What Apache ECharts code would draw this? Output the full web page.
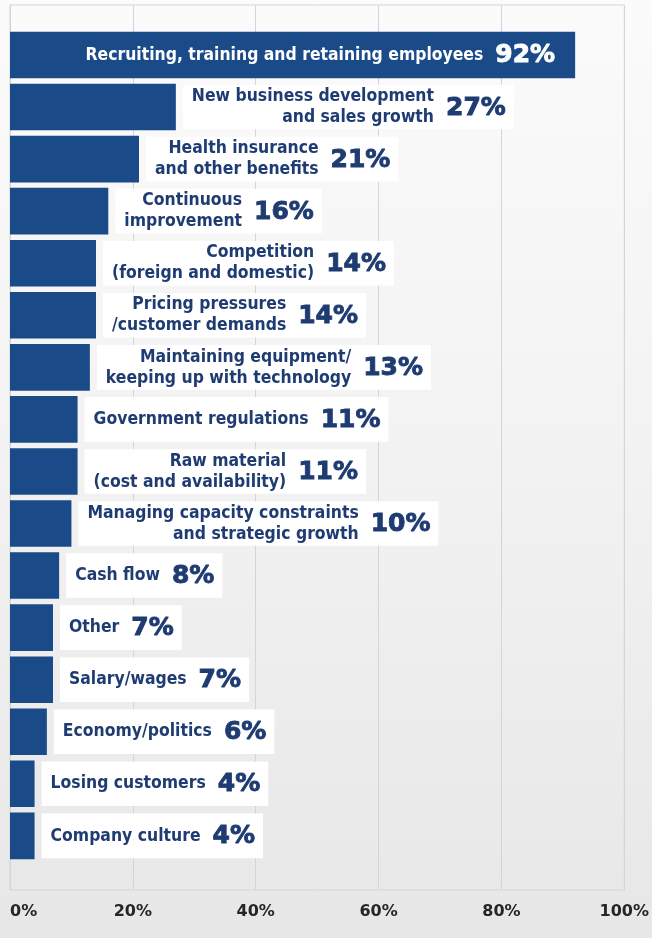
<!DOCTYPE html>
<html>
<head>
<meta charset="utf-8">
<script src="https://cdn.jsdelivr.net/npm/echarts@6/dist/echarts.min.js"></script>
<style>
  html, body { margin: 0; padding: 0; background: #efefef; }
  #chart { width: 652px; height: 938px; }
</style>
</head>
<body>
<div id="chart"></div>
<script>
// Issues ranked by share of respondents (%)
const categories = [
  'Recruiting, training and retaining employees',
  'New business development\nand sales growth',
  'Health insurance\nand other benefits',
  'Continuous\nimprovement',
  'Competition\n(foreign and domestic)',
  'Pricing pressures\n/customer demands',
  'Maintaining equipment/\nkeeping up with technology',
  'Government regulations',
  'Raw material\n(cost and availability)',
  'Managing capacity constraints\nand strategic growth',
  'Cash flow',
  'Other',
  'Salary/wages',
  'Economy/politics',
  'Losing customers',
  'Company culture'
];
const shares = [92, 27, 21, 16, 14, 14, 13, 11, 11, 10, 8, 7, 7, 6, 4, 4];
const tickValues = [0, 20, 40, 60, 80, 100];

const BAR = '#1b4a89';
const INK = '#1f3c72';
const FONT = '"DejaVu Sans", "Liberation Sans", sans-serif';
const NAME_SIZE = 18, NAME_SX = 0.87, PCT_SIZE = 25, LINE_GAP = 21;

const measureCtx = document.createElement('canvas').getContext('2d');
function textWidth(text, size) {
  measureCtx.font = 'bold ' + size + 'px ' + FONT;
  return measureCtx.measureText(text).width;
}

function nameText(str, x, y, color) {
  return {
    type: 'text', x: x, y: y, scaleX: NAME_SX, originX: 0, originY: 0,
    style: {
      text: str, x: 0, y: 0, fill: color, align: 'right', verticalAlign: 'middle',
      fontSize: NAME_SIZE, fontWeight: 'bold', fontFamily: FONT
    }
  };
}
function pctText(str, x, y, color) {
  // a thin stroke in the fill colour gives the figures a heavier weight
  return {
    type: 'text', x: x, y: y,
    style: {
      text: str, x: 0, y: 0, fill: color, stroke: color, lineWidth: 0.9,
      align: 'left', verticalAlign: 'middle',
      fontSize: PCT_SIZE, fontWeight: 'bold', fontFamily: FONT
    }
  };
}

function renderItem(params, api) {
  const i = params.dataIndex;
  const v = api.value(0);
  const p0 = api.coord([0, api.value(1)]);
  const p1 = api.coord([v, api.value(1)]);
  const band = api.size([0, 1])[1];
  const h = band * 0.895;
  const cy = p0[1];
  const lines = categories[i].split('\n');
  const pct = v + '%';
  const pctW = textWidth(pct, PCT_SIZE);
  const nameW = Math.max.apply(null, lines.map(function (l) { return textWidth(l, NAME_SIZE) * NAME_SX; }));
  const lineYs = lines.length === 1 ? [cy] : [cy - LINE_GAP / 2, cy + LINE_GAP / 2];

  const children = [{
    type: 'rect',
    shape: { x: p0[0], y: cy - h / 2, width: p1[0] - p0[0], height: h },
    style: { fill: BAR }
  }];

  if (i === 0) {
    // the longest bar carries its own label inside, in white
    const pctLeft = p1[0] - 20 - pctW;
    const nameRight = pctLeft - 12;
    lines.forEach(function (l, k) { children.push(nameText(l, nameRight, lineYs[k], '#ffffff')); });
    children.push(pctText(pct, pctLeft, cy + 1, '#ffffff'));
  } else {
    const boxLeft = p1[0] + 7;
    const nameRight = boxLeft + 9 + nameW;
    const pctLeft = nameRight + 12;
    const boxRight = pctLeft + pctW + 8;
    children.push({
      type: 'rect',
      shape: { x: boxLeft, y: cy - h / 2 + 1, width: boxRight - boxLeft, height: h - 2 },
      style: { fill: '#ffffff' }
    });
    lines.forEach(function (l, k) { children.push(nameText(l, nameRight, lineYs[k], INK)); });
    children.push(pctText(pct, pctLeft, cy + 1, INK));
  }
  return { type: 'group', children: children };
}

const chart = echarts.init(document.getElementById('chart'), null, { renderer: 'canvas' });
chart.setOption({
  backgroundColor: {
    type: 'linear', x: 0, y: 0, x2: 0, y2: 1,
    colorStops: [
      { offset: 0, color: '#fbfbfb' },
      { offset: 0.45, color: '#f3f3f3' },
      { offset: 1, color: '#e7e7e7' }
    ]
  },
  animation: false,
  grid: {
    left: 10, right: 26, top: 5, bottom: 48,
    show: true, borderColor: '#d3d5d8', borderWidth: 1, backgroundColor: 'transparent'
  },
  xAxis: {
    type: 'value', min: tickValues[0], max: tickValues[tickValues.length - 1], interval: 20,
    axisLine: { show: false }, axisTick: { show: false },
    splitLine: { show: true, lineStyle: { color: '#d3d5d8', width: 1 } },
    axisLabel: {
      formatter: '{value}%', color: '#262626', fontSize: 16, fontWeight: 'bold',
      fontFamily: FONT, margin: 14, alignMinLabel: 'left', alignMaxLabel: 'center'
    }
  },
  yAxis: {
    type: 'value', inverse: true, min: -0.96, max: 16.04, show: false,
    splitLine: { show: false }
  },
  series: [{
    type: 'custom',
    renderItem: renderItem,
    encode: { x: 0, y: 1 },
    data: shares.map(function (s, k) { return [s, k]; })
  }]
});
</script>
</body>
</html>
